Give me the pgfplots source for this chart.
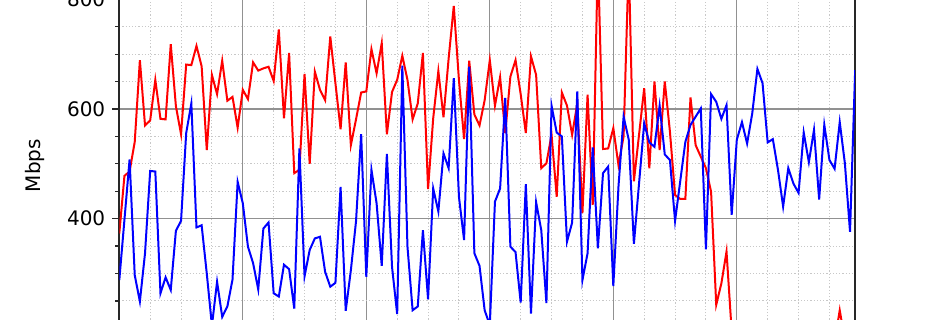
\documentclass[border=0pt]{standalone}
\usepackage{pgfplots}
\pgfplotsset{compat=1.18}
\usepackage{fontspec}
\setmainfont{DejaVu Sans}
\definecolor{majgrid}{RGB}{145,145,145}
\definecolor{mingrid}{RGB}{200,200,200}
\definecolor{spine}{RGB}{40,40,40}
\begin{document}
\begin{tikzpicture}
\begin{axis}[
  at={(0,0)}, anchor=south west,
  scale only axis,
  width=367.94pt, height=274.25pt,
  xmin=0, xmax=143, ymin=0, ymax=1000,
  xtick={0,24,...,144}, minor x tick num=3,
  ytick={0,200,...,1000}, minor y tick num=3,
  xticklabels={},
  grid=both,
  major grid style={majgrid, line width=0.65pt},
  minor grid style={mingrid, line width=0.5pt, dash pattern=on 0.6pt off 1.0pt},
  tick align=outside,
  ytick pos=left, xtick pos=bottom,
  major tick length=3.5pt, minor tick length=2pt,
  tick style={spine, line width=0.6pt},
  axis line style={spine, line width=0.9pt},
  font=\fontsize{10}{12}\selectfont,
  /pgf/number format/assume math mode=true,
  /pgf/number format/1000 sep={},
  ylabel={Mbps},
  every axis y label/.style={at={(axis description cs:-0.1152,0.497)}, rotate=90, anchor=center, font=\fontsize{10}{12}\selectfont},
]
\addplot[red, line width=1pt] coordinates {
(0,373)(1,478)(2,486)(3,540)(4,689)(5,570)(6,579)(7,653)(8,582)(9,581)
(10,718)(11,605)(12,554)(13,681)(14,680)(15,715)(16,678)(17,525)(18,662)(19,627)
(20,688)(21,615)(22,622)(23,566)(24,635)(25,618)(26,685)(27,670)(28,674)(29,677)
(30,651)(31,745)(32,583)(33,702)(34,483)(35,489)(36,664)(37,500)(38,668)(39,635)
(40,616)(41,732)(42,647)(43,563)(44,685)(45,534)(46,581)(47,630)(48,632)(49,709)
(50,665)(51,720)(52,554)(53,631)(54,653)(55,697)(56,653)(57,581)(58,610)(59,702)
(60,454)(61,583)(62,669)(63,585)(64,692)(65,788)(66,653)(67,545)(68,688)(69,590)
(70,570)(71,616)(72,689)(73,606)(74,658)(75,556)(76,659)(77,689)(78,627)(79,556)
(80,696)(81,662)(82,492)(83,501)(84,553)(85,440)(86,630)(87,606)(88,553)(89,610)
(90,410)(91,626)(92,425)(93,880)(94,527)(95,528)(96,565)(97,498)(98,550)(99,870)
(100,468)(101,553)(102,638)(103,492)(104,650)(105,525)(106,650)(107,559)(108,443)(109,436)
(110,436)(111,621)(112,534)(113,513)(114,492)(115,449)(116,243)(117,282)(118,340)(119,195)
(120,180)(121,170)(122,160)(123,175)(124,150)(125,165)(126,185)(127,170)(128,160)(129,190)
(130,175)(131,180)(132,165)(133,170)(134,185)(135,160)(136,175)(137,180)(138,170)(139,175)
(140,233)(141,178)(142,160)(143,170)
};
\addplot[blue, line width=1pt] coordinates {
(0,288)(1,398)(2,508)(3,297)(4,249)(5,337)(6,487)(7,486)(8,264)(9,293)
(10,270)(11,378)(12,396)(13,556)(14,610)(15,384)(16,388)(17,300)(18,205)(19,285)
(20,221)(21,240)(22,289)(23,467)(24,428)(25,349)(26,319)(27,271)(28,382)(29,393)
(30,264)(31,258)(32,316)(33,308)(34,236)(35,528)(36,295)(37,343)(38,364)(39,367)
(40,303)(41,276)(42,283)(43,458)(44,232)(45,306)(46,395)(47,554)(48,294)(49,489)
(50,428)(51,314)(52,518)(53,312)(54,226)(55,679)(56,349)(57,233)(58,240)(59,379)
(60,253)(61,455)(62,413)(63,519)(64,492)(65,656)(66,440)(67,361)(68,677)(69,337)
(70,314)(71,233)(72,206)(73,431)(74,455)(75,620)(76,349)(77,339)(78,247)(79,463)
(80,227)(81,430)(82,379)(83,246)(84,606)(85,557)(86,550)(87,358)(88,393)(89,632)
(90,288)(91,337)(92,530)(93,346)(94,483)(95,495)(96,277)(97,458)(98,586)(99,544)
(100,354)(101,464)(102,574)(103,539)(104,531)(105,606)(106,517)(107,507)(108,396)(109,468)
(110,540)(111,571)(112,586)(113,601)(114,344)(115,627)(116,613)(117,582)(118,607)(119,407)
(120,544)(121,576)(122,537)(123,592)(124,673)(125,647)(126,539)(127,545)(128,489)(129,422)
(130,492)(131,464)(132,447)(133,557)(134,503)(135,562)(136,435)(137,571)(138,507)(139,491)
(140,576)(141,501)(142,376)(143,671)
};
\end{axis}
\pgfresetboundingbox
\useasboundingbox (-59.65pt,59.05pt) rectangle (415.35pt,219.04pt);
\end{tikzpicture}
\end{document}
